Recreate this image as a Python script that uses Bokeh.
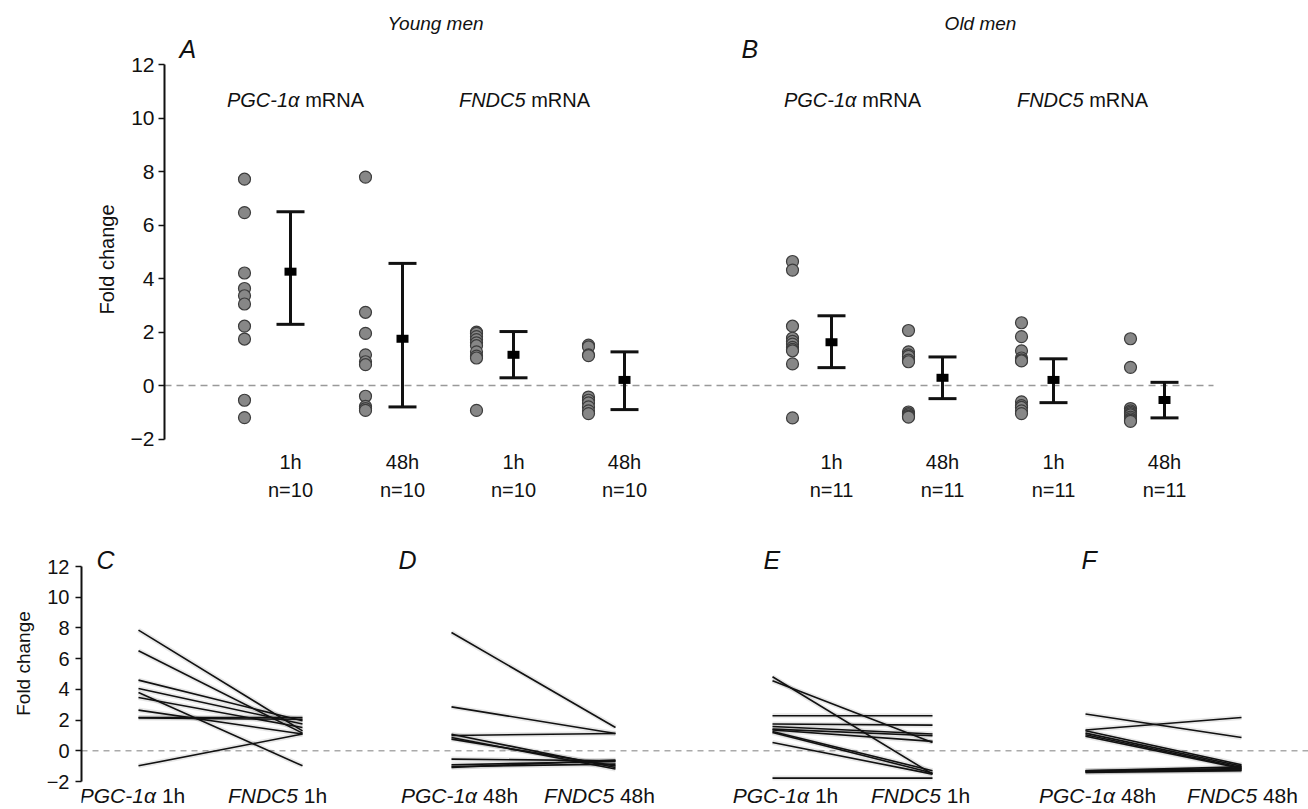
from bokeh.plotting import figure
from bokeh.models import Range1d, FixedTicker, ColumnDataSource
from bokeh.embed import file_html
from bokeh.resources import INLINE
from bokeh.core.properties import value

# ---------------- data (fold change) ----------------
time_labels = ["1h", "48h", "1h", "48h", "1h", "48h", "1h", "48h"]
n_labels = ["n=10", "n=10", "n=10", "n=10", "n=11", "n=11", "n=11", "n=11"]

young_pgc_1h = [7.72, 6.47, 4.21, 3.63, 3.36, 3.05, 2.22, 1.74, -0.55, -1.20]
young_pgc_48h = [7.80, 2.74, 1.95, 1.15, 0.89, 0.78, -0.40, -0.78, -0.86, -0.93]
young_fndc5_1h = [2.00, 1.95, 1.83, 1.72, 1.60, 1.49, 1.26, 1.10, 1.03, -0.93]
young_fndc5_48h = [1.51, 1.45, 1.15, 1.12, -0.43, -0.55, -0.65, -0.80, -0.95, -1.05]
old_pgc_1h = [4.64, 4.32, 2.22, 1.77, 1.65, 1.55, 1.43, 1.35, 1.30, 0.81, -1.21]
old_pgc_48h = [2.06, 1.26, 1.15, 1.09, 0.95, 0.89, -0.99, -1.05, -1.10, -1.15, -1.18]
old_fndc5_1h = [2.35, 1.83, 1.30, 1.03, 0.96, 0.92, -0.61, -0.75, -0.82, -0.95, -1.05]
old_fndc5_48h = [1.75, 0.68, -0.86, -0.95, -1.00, -1.05, -1.10, -1.18, -1.25, -1.30, -1.34]

summary_center = [4.26, 1.75, 1.15, 0.21, 1.62, 0.29, 0.21, -0.54]
summary_lower = [2.29, -0.80, 0.29, -0.90, 0.67, -0.49, -0.64, -1.21]
summary_upper = [6.50, 4.57, 2.02, 1.26, 2.61, 1.07, 1.00, 0.12]

# paired individual responses (PGC-1a vs FNDC5)
c_pgc = [7.86, 6.51, 4.60, 4.06, 3.80, 3.47, 2.65, 2.17, 2.13, -0.98]
c_fndc5 = [1.30, 1.15, 1.95, 1.74, -0.98, 1.52, 1.09, 2.17, 2.05, 1.09]
d_pgc = [7.70, 2.86, 1.00, 1.08, 0.87, 0.76, -0.54, -0.91, -1.02, -1.09]
d_fndc5 = [1.52, 1.13, 1.13, -1.09, -1.19, -0.98, -0.65, -0.70, -0.87, -0.60]
e_pgc = [4.82, 4.56, 2.28, 1.74, 1.58, 1.41, 1.35, 1.26, 1.19, 0.54, -1.78]
e_fndc5 = [-1.52, 0.54, 2.28, 1.67, 1.09, 0.98, 0.61, -1.30, -1.45, -1.52, -1.78]
f_pgc = [2.39, 1.35, 1.30, 1.15, 1.05, 0.95, -1.30, -1.35, -1.41, -1.30, -1.38]
f_fndc5 = [0.87, 2.17, -0.91, -1.00, -1.09, -1.15, -1.15, -1.26, -1.30, -1.05, -1.20]

y_ticks = [-2, 0, 2, 4, 6, 8, 10, 12]

# ---------------- layout constants ----------------
FONT = "Liberation Sans"
W = 1308
H1, H2 = 518, 290
LEFT1, LEFT2 = 164, 81       # page x of the y axes
S1 = (438.5 - 64.3) / 14.0   # px per unit, top
S2 = (781.0 - 566.0) / 14.0  # px per unit, bottom
Y1_END = 12 + 64.3 / S1
Y1_START = Y1_END - H1 / S1
Y2_END = 12 + (566.0 - H1) / S2
Y2_START = Y2_END - H2 / S2


def ty(page_y):
    return Y1_END - page_y / S1


def by(page_y):
    return Y2_END - (page_y - H1) / S2


CW = {"P": .667, "G": .778, "C": .722, "-": .333, "1": .556, "\u03b1": .58, " ": .278,
      "m": .833, "R": .722, "N": .722, "A": .667, "h": .556, "4": .556, "8": .556,
      "F": .611, "D": .722, "5": .556}


def tw(s, size):
    return sum(CW.get(ch, .556) for ch in s) * size


def mixed(p, cx, y, parts, size):
    gap = 0.278 * size
    total = sum(tw(t, size) for t, _ in parts) + gap * (len(parts) - 1)
    x = cx - total / 2
    for t, style in parts:
        p.text(x=[x], y=[y], text=[t], text_font=value(FONT), text_font_size=f"{size}px",
               text_font_style=style, text_align="left", text_baseline="middle",
               text_color="#111111")
        x += tw(t, size) + gap


def style_axis(p, size):
    ax = p.yaxis[0]
    ax.ticker = FixedTicker(ticks=y_ticks)
    ax.bounds = (-2, 12)
    ax.major_tick_in = 0
    ax.major_tick_out = 6
    ax.minor_tick_line_color = None
    ax.axis_line_width = 2
    ax.axis_line_color = "#111111"
    ax.major_tick_line_width = 1.5
    ax.major_tick_line_color = "#111111"
    ax.major_label_text_font = FONT
    ax.major_label_text_font_size = f"{size}px"
    ax.major_label_text_color = "#111111"
    ax.axis_label = "Fold change"
    ax.axis_label_text_font = FONT
    ax.axis_label_text_font_style = "normal"
    ax.axis_label_text_color = "#111111"


# ---------------- top figure ----------------
p1 = figure(width=W, height=H1, output_backend="svg", toolbar_location=None,
            x_range=Range1d(LEFT1, W), y_range=Range1d(Y1_START, Y1_END),
            x_axis_location=None, min_border_left=LEFT1, min_border_right=0,
            min_border_top=0, min_border_bottom=0, outline_line_color=None)
p1.grid.visible = False
style_axis(p1, 21)
p1.yaxis[0].major_label_standoff = 4
p1.yaxis[0].axis_label_text_font_size = "20px"
p1.yaxis[0].axis_label_standoff = 10

p1.segment(x0=[LEFT1], x1=[1213], y0=[0], y1=[0], line_color="#999999",
           line_width=1.6, line_dash="7 5")

dot_x = [244, 365, 476, 588, 792, 908, 1021, 1130]
bar_x = [290, 402, 513, 624, 831, 942, 1053, 1164]
series = [young_pgc_1h, young_pgc_48h, young_fndc5_1h, young_fndc5_48h,
          old_pgc_1h, old_pgc_48h, old_fndc5_1h, old_fndc5_48h]
xs, ys = [], []
for gx, vals in zip(dot_x, series):
    xs += [gx] * len(vals)
    ys += vals
p1.scatter(x=xs, y=ys, size=12, fill_color="#878787", line_color="#3c3c3c",
           line_width=1.2)

src = ColumnDataSource(dict(x=bar_x, lo=summary_lower, hi=summary_upper, c=summary_center,
                            xl=[b - 14 for b in bar_x], xr=[b + 14 for b in bar_x]))
p1.segment(x0="x", x1="x", y0="lo", y1="hi", source=src, line_color="#111111", line_width=3)
p1.segment(x0="xl", x1="xr", y0="lo", y1="lo", source=src, line_color="#111111", line_width=3)
p1.segment(x0="xl", x1="xr", y0="hi", y1="hi", source=src, line_color="#111111", line_width=3)
p1.rect(x="x", y="c", width=12, height=8, width_units="screen", height_units="screen",
        source=src, fill_color="#000000", line_color=None)

p1.text(x=bar_x, y=[ty(461)] * 8, text=time_labels, text_font=value(FONT),
        text_font_size="20px", text_align="center", text_baseline="middle", text_color="#111111")
p1.text(x=bar_x, y=[ty(489)] * 8, text=n_labels, text_font=value(FONT),
        text_font_size="20px", text_align="center", text_baseline="middle", text_color="#111111")

p1.text(x=[435, 980], y=[ty(23)] * 2, text=["Young men", "Old men"], text_font=value(FONT),
        text_font_size="19px", text_font_style="italic", text_align="center",
        text_baseline="middle", text_color="#111111")
p1.text(x=[179, 741], y=[ty(48)] * 2, text=["A", "B"], text_font=value(FONT),
        text_font_size="25px", text_font_style="italic", text_align="left",
        text_baseline="middle", text_color="#111111")
for cx in (295, 852):
    mixed(p1, cx, ty(99), [("PGC-1\u03b1", "italic"), ("mRNA", "normal")], 20)
for cx in (524, 1082):
    mixed(p1, cx, ty(99), [("FNDC5", "italic"), ("mRNA", "normal")], 20)

# ---------------- bottom figure ----------------
p2 = figure(width=W, height=H2, output_backend="svg", toolbar_location=None,
            x_range=Range1d(LEFT2, W), y_range=Range1d(Y2_START, Y2_END),
            x_axis_location=None, min_border_left=LEFT2, min_border_right=0,
            min_border_top=0, min_border_bottom=0, outline_line_color=None)
p2.grid.visible = False
style_axis(p2, 20)
p2.yaxis[0].major_label_standoff = 6
p2.yaxis[0].axis_label_text_font_size = "19px"
p2.yaxis[0].axis_label_standoff = 10

p2.segment(x0=[LEFT2], x1=[W], y0=[0], y1=[0], line_color="#aaaaaa",
           line_width=1.4, line_dash="6 5")

pairs = [(c_pgc, c_fndc5, 138, 302), (d_pgc, d_fndc5, 451, 615),
         (e_pgc, e_fndc5, 772, 932), (f_pgc, f_fndc5, 1085, 1241)]
for a, b, xa, xb in pairs:
    s = ColumnDataSource(dict(x0=[xa] * len(a), x1=[xb] * len(b), y0=a, y1=b))
    p2.segment(x0="x0", x1="x1", y0="y0", y1="y1", source=s, line_color="#000000",
               line_alpha=0.09, line_width=5)
    p2.segment(x0="x0", x1="x1", y0="y0", y1="y1", source=s, line_color="#111111",
               line_width=1.6)

p2.text(x=[96, 398, 763, 1081], y=[by(559)] * 4, text=["C", "D", "E", "F"],
        text_font=value(FONT), text_font_size="25px", text_font_style="italic",
        text_align="left", text_baseline="middle", text_color="#111111")
for cx, t in ((132, "1h"), (459, "48h"), (785, "1h"), (1097, "48h")):
    mixed(p2, cx, by(795), [("PGC-1\u03b1", "italic"), (t, "normal")], 21)
for cx, t in ((277, "1h"), (599, "48h"), (920, "1h"), (1242, "48h")):
    mixed(p2, cx, by(795), [("FNDC5", "italic"), (t, "normal")], 21)

open("out.html", "w").write(file_html([p1, p2], INLINE))
